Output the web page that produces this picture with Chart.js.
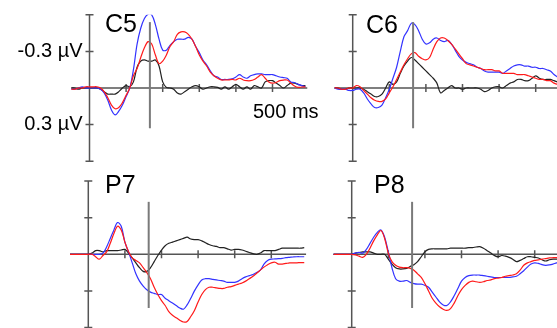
<!DOCTYPE html>
<html>
<head>
<meta charset="utf-8">
<script src="https://cdn.jsdelivr.net/npm/chart.js@4.4.0/dist/chart.umd.min.js"></script>
<style>
  html, body { margin:0; padding:0; background:#fff; }
  body { width:557px; height:328px; overflow:hidden; position:relative; }
  canvas { position:absolute; left:0; top:0; }
</style>
</head>
<body>
<canvas id="pC5" width="600" height="328"></canvas>
<canvas id="pC6" width="600" height="328"></canvas>
<canvas id="pP7" width="600" height="328"></canvas>
<canvas id="pP8" width="600" height="328"></canvas>
<script>
// time axis (ms), 10 ms steps
const times = [
  -50,-40,-30,-20,-10,0,10,20,30,40,
  50,60,70,80,90,100,110,120,130,140,
  150,160,170,180,190,200,210,220,230,240,
  250,260,270,280,290,300,310,320,330,340,
  350,360,370,380,390,400,410,420,430,440,
  450,460,470,480,490,500,510,520,530,540,
  550,560,570,580,590
];

// amplitudes in µV (negative plotted up)
const c5Blue = [
  0.01,0.01,0,-0.01,0,0,0,0,0.01,0.04,
  0.10,0.18,0.22,0.19,0.14,0.07,0,-0.15,-0.36,-0.49,
  -0.57,-0.605,-0.6,-0.52,-0.40,-0.31,-0.31,-0.35,-0.38,-0.40,
  -0.40,-0.40,-0.415,-0.40,-0.34,-0.29,-0.23,-0.19,-0.14,-0.10,
  -0.09,-0.07,-0.07,-0.07,-0.075,-0.09,-0.11,-0.09,-0.08,-0.10,
  -0.11,-0.115,-0.115,-0.11,-0.11,-0.11,-0.10,-0.09,-0.085,-0.08,
  -0.05,-0.045,-0.03,-0.02,-0.01
];
const c5Red = [
  0.01,0.01,0,0,-0.01,-0.01,-0.01,-0.01,0,0.03,
  0.08,0.14,0.17,0.16,0.12,0.06,0,-0.10,-0.16,-0.25,
  -0.33,-0.38,-0.36,-0.27,-0.20,-0.22,-0.27,-0.34,-0.38,-0.44,
  -0.46,-0.46,-0.44,-0.40,-0.34,-0.27,-0.22,-0.18,-0.13,-0.10,
  -0.08,-0.066,-0.066,-0.066,-0.07,-0.066,-0.08,-0.066,-0.06,-0.06,
  -0.07,-0.09,-0.11,-0.08,-0.05,-0.04,-0.045,-0.06,-0.065,-0.065,
  -0.04,-0.017,-0.005,-0.008,-0.01
];
const c5Black = [
  0,0,0.01,0,0,0,0,0,0.01,0.03,
  0.05,0.05,0.05,0.03,0,-0.02,-0.01,-0.05,-0.17,-0.22,
  -0.23,-0.22,-0.22,-0.23,-0.18,-0.05,-0.005,0,0.01,0.04,
  0.05,0.03,0.01,-0.01,-0.02,-0.01,0.01,0,-0.01,-0.01,
  -0.005,0.01,-0.01,0.01,-0.01,-0.03,-0.01,0.01,-0.01,0.01,
  -0.02,-0.01,0,-0.05,-0.06,-0.06,-0.04,-0.02,0,-0.02,
  -0.04,-0.04,-0.03,-0.02,-0.02
];

const c6Blue = [
  0,0.01,0.01,0.01,0.02,0.02,0.01,0.01,0.04,0.09,
  0.13,0.16,0.16,0.14,0.08,0.01,-0.08,-0.17,-0.30,-0.42,
  -0.47,-0.53,-0.52,-0.47,-0.40,-0.36,-0.37,-0.40,-0.41,-0.39,
  -0.38,-0.39,-0.36,-0.31,-0.26,-0.23,-0.21,-0.20,-0.19,-0.17,
  -0.16,-0.14,-0.13,-0.13,-0.13,-0.13,-0.12,-0.14,-0.16,-0.18,
  -0.19,-0.19,-0.18,-0.18,-0.17,-0.17,-0.16,-0.16,-0.15,-0.14,
  -0.11,-0.09,-0.07,-0.06,-0.05
];
const c6Red = [
  0,0,0.01,0.01,0,0,-0.02,-0.01,0.02,0.05,
  0.08,0.10,0.11,0.11,0.09,0.04,-0.01,-0.07,-0.13,-0.19,
  -0.24,-0.28,-0.29,-0.26,-0.24,-0.23,-0.25,-0.32,-0.38,-0.41,
  -0.41,-0.39,-0.36,-0.32,-0.28,-0.24,-0.20,-0.19,-0.18,-0.17,
  -0.16,-0.15,-0.15,-0.15,-0.14,-0.14,-0.12,-0.12,-0.12,-0.12,
  -0.11,-0.11,-0.11,-0.10,-0.09,-0.08,-0.07,-0.07,-0.06,-0.06,
  -0.04,-0.03,-0.03,-0.02,-0.02
];
const c6Black = [
  0,0,0.01,0.01,0,0,0,0,0.01,0.03,
  0.05,0.07,0.07,0.05,0,-0.05,-0.03,-0.05,-0.12,-0.18,
  -0.22,-0.25,-0.23,-0.20,-0.17,-0.14,-0.11,-0.08,-0.04,0.04,
  0.02,0,-0.02,0,0,0.01,0,0,0,0,
  0.01,0.03,0.02,0,-0.01,-0.01,0,-0.02,-0.04,-0.05,
  -0.07,-0.07,-0.06,-0.06,-0.08,-0.10,-0.08,-0.07,-0.07,-0.07,
  -0.06,-0.05,-0.05,-0.04,-0.04
];

const p7Blue = [
  0,0,0,0,0,0,0,0,0,-0.01,
  -0.06,-0.13,-0.20,-0.26,-0.23,-0.10,-0.02,0.07,0.16,0.22,
  0.26,0.29,0.31,0.32,0.33,0.33,0.36,0.38,0.40,0.42,
  0.44,0.45,0.415,0.36,0.30,0.25,0.21,0.20,0.20,0.205,
  0.21,0.215,0.22,0.23,0.23,0.23,0.22,0.20,0.185,0.175,
  0.165,0.15,0.13,0.08,0.05,0.04,0.038,0.036,0.033,0.028,
  0.025,0.022,0.02,0.02,0.02
];
const p7Red = [
  0,0,0,0,0,0,0,0.02,0.04,0.01,
  -0.02,-0.09,-0.17,-0.23,-0.20,-0.10,-0.02,0.03,0.05,0.07,
  0.11,0.15,0.20,0.27,0.33,0.38,0.42,0.47,0.50,0.52,
  0.54,0.555,0.55,0.51,0.46,0.39,0.33,0.29,0.27,0.27,
  0.275,0.28,0.28,0.27,0.265,0.255,0.245,0.235,0.22,0.20,
  0.18,0.155,0.13,0.105,0.085,0.07,0.065,0.08,0.08,0.075,
  0.07,0.07,0.07,0.068,0.068
];
const p7Black = [
  0,0,0,0,0,0,-0.01,-0.03,-0.03,-0.02,
  -0.03,-0.03,-0.03,-0.03,-0.035,-0.04,-0.01,0.03,0.07,0.11,
  0.14,0.14,0.11,0.06,0.01,-0.035,-0.07,-0.09,-0.10,-0.11,
  -0.12,-0.13,-0.14,-0.125,-0.12,-0.12,-0.11,-0.095,-0.08,-0.07,
  -0.065,-0.055,-0.055,-0.045,-0.035,-0.04,-0.04,-0.035,-0.025,-0.015,
  -0.005,0,-0.01,-0.03,-0.03,-0.03,-0.03,-0.04,-0.05,-0.05,
  -0.05,-0.05,-0.05,-0.05,-0.055
];

const p8Blue = [
  0,0,0,0,0,0,-0.01,-0.015,-0.01,-0.04,
  -0.09,-0.14,-0.18,-0.20,-0.14,-0.02,0.11,0.20,0.22,0.22,
  0.215,0.23,0.24,0.245,0.245,0.255,0.27,0.31,0.35,0.39,
  0.415,0.42,0.39,0.34,0.28,0.22,0.19,0.175,0.17,0.17,
  0.17,0.175,0.18,0.185,0.19,0.19,0.19,0.19,0.19,0.185,
  0.18,0.16,0.135,0.105,0.08,0.07,0.075,0.085,0.09,0.087,
  0.08,0.07,0.065,0.06,0.06
];
const p8Red = [
  0,0,0,0,0,0,0.005,0.015,0.025,0,
  -0.05,-0.11,-0.16,-0.195,-0.13,-0.01,0.06,0.09,0.105,0.11,
  0.11,0.115,0.13,0.16,0.19,0.24,0.30,0.36,0.40,0.43,
  0.45,0.46,0.445,0.40,0.34,0.29,0.255,0.23,0.22,0.225,
  0.23,0.225,0.215,0.21,0.20,0.195,0.19,0.18,0.175,0.17,
  0.16,0.13,0.09,0.07,0.06,0.05,0.046,0.04,0.035,0.03,
  0.028,0.027,0.025,0.025,0.025
];
const p8Black = [
  0,0,0,0,0,0,-0.01,-0.015,-0.02,-0.02,
  -0.02,-0.01,0,0,0,0.04,0.08,0.11,0.12,0.12,
  0.115,0.10,0.085,0.06,0.02,-0.02,-0.04,-0.045,-0.045,-0.045,
  -0.045,-0.045,-0.05,-0.05,-0.05,-0.05,-0.05,-0.055,-0.055,-0.06,
  -0.063,-0.05,-0.03,-0.01,0.01,0.02,0.01,0.015,0.025,0.04,
  0.06,0.05,0.035,0.02,0.02,0.025,0.03,0.045,0.055,0.045,
  0.04,0.04,0.04,0.04,0.04
];

const yTicks = [-0.6, -0.3, 0, 0.3, 0.6];
const xTicks = [0, 100, 200, 300, 400, 500];
const markerMs = 165;

// layout: pixel of t=0 / baseline, marker extent in µV
const PX_PER_MS = 0.366, PX_PER_UV = 122;
const T_MIN = -50, T_MAX = 595, V_MAX = 0.6;
const panels = [
  { id:'pC5', name:'C5', x0:89.5, y0:88,    mark:[-0.54, 0.33], series:[c5Red, c5Blue, c5Black], title:[105, 32], units:true },
  { id:'pC6', name:'C6', x0:352.7, y0:88,   mark:[-0.54, 0.33], series:[c6Red, c6Blue, c6Black], title:[366, 33] },
  { id:'pP7', name:'P7', x0:88.3, y0:254.3, mark:[-0.43, 0.44], series:[p7Red, p7Blue, p7Black], title:[105, 193] },
  { id:'pP8', name:'P8', x0:351.7, y0:254.3, mark:[-0.43, 0.44], series:[p8Red, p8Blue, p8Black], title:[374, 193] }
];
const colors = ['#ff1a1a', '#3333ff', '#222222'];
const FONT = "Arial, 'Liberation Sans', sans-serif";

function axesPlugin(p){
  return {
    id: 'erpAxes' + p.name,
    beforeDatasetsDraw(chart){
      const {ctx} = chart, xs = chart.scales.x, ys = chart.scales.y;
      const ox = xs.getPixelForValue(0), oy = ys.getPixelForValue(0);
      ctx.save();
      ctx.strokeStyle = '#555';
      ctx.lineWidth = 1.5;
      ctx.beginPath();
      ctx.moveTo(xs.getPixelForValue(T_MIN), oy); ctx.lineTo(xs.getPixelForValue(T_MAX), oy);
      ctx.moveTo(ox, ys.getPixelForValue(-V_MAX)); ctx.lineTo(ox, ys.getPixelForValue(V_MAX));
      yTicks.forEach(v => { const y = ys.getPixelForValue(v); ctx.moveTo(ox - 4, y); ctx.lineTo(ox + 4, y); });
      xTicks.forEach(t => { const x = xs.getPixelForValue(t); ctx.moveTo(x, oy - 4); ctx.lineTo(x, oy + 4); });
      ctx.stroke();

      ctx.fillStyle = '#000';
      ctx.textBaseline = 'alphabetic';
      ctx.font = '25px ' + FONT;
      ctx.textAlign = 'left';
      ctx.fillText(p.name, p.title[0], p.title[1]);
      if (p.units){
        ctx.font = '20px ' + FONT;
        ctx.textAlign = 'right';
        ctx.textBaseline = 'middle';
        ctx.fillText('-0.3 µV', ox - 7, ys.getPixelForValue(-0.3));
        ctx.fillText('0.3 µV', ox - 7, ys.getPixelForValue(0.3));
        ctx.textAlign = 'left';
        ctx.fillText('500 ms', 253, 112.5);
      }
      ctx.restore();
    },
    afterDatasetsDraw(chart){
      const {ctx} = chart, xs = chart.scales.x, ys = chart.scales.y;
      const mx = xs.getPixelForValue(markerMs);
      ctx.save();
      ctx.strokeStyle = '#7a7a7a';
      ctx.lineWidth = 2;
      ctx.beginPath();
      ctx.moveTo(mx, ys.getPixelForValue(p.mark[0]));
      ctx.lineTo(mx, ys.getPixelForValue(p.mark[1]));
      ctx.stroke();
      ctx.restore();
    }
  };
}

panels.forEach(p => {
  const W = 600, H = 328;
  const left = p.x0 + T_MIN * PX_PER_MS;
  const right = W - (p.x0 + T_MAX * PX_PER_MS);
  const top = p.y0 - V_MAX * PX_PER_UV;
  const bottom = H - (p.y0 + V_MAX * PX_PER_UV);
  new Chart(document.getElementById(p.id), {
    type: 'line',
    data: {
      datasets: p.series.map((vals, i) => ({
        data: times.map((t, k) => ({ x: t, y: vals[k] })),
        borderColor: colors[i],
        borderWidth: 1.2,
        pointRadius: 0,
        tension: 0.35,
        fill: false
      }))
    },
    options: {
      responsive: false,
      animation: false,
      events: [],
      layout: { padding: { left, right, top, bottom } },
      plugins: { legend: { display: false }, tooltip: { enabled: false } },
      scales: {
        x: { type: 'linear', min: T_MIN, max: T_MAX, display: false },
        y: { type: 'linear', min: -V_MAX, max: V_MAX, reverse: true, display: false }
      }
    },
    plugins: [axesPlugin(p)]
  });
});
</script>
</body>
</html>
